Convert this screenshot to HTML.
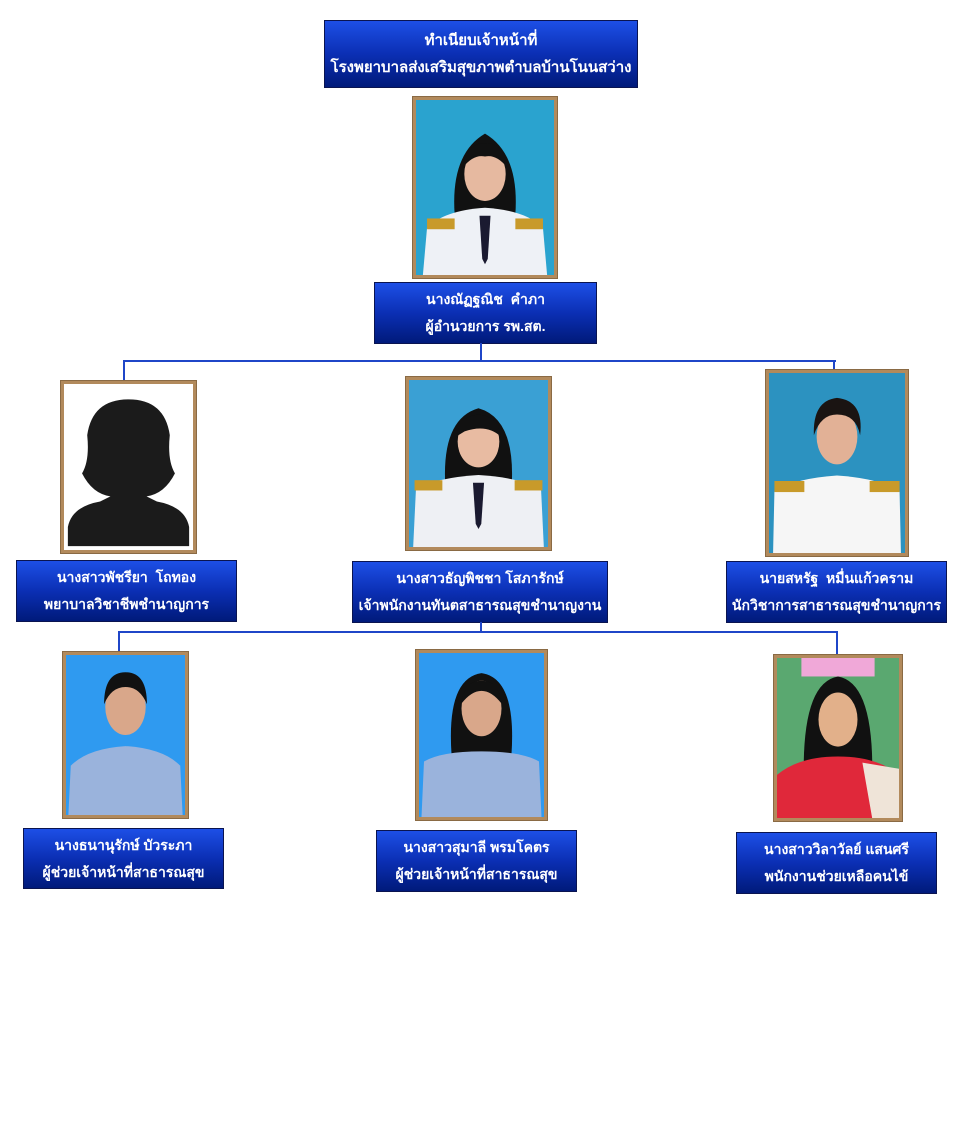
<!DOCTYPE html>
<html><head><meta charset="utf-8">
<style>
html,body{margin:0;padding:0;background:#fff;width:960px;height:1134px;position:relative;overflow:hidden;font-family:"Liberation Sans","DejaVu Sans",sans-serif}
.box{position:absolute;box-sizing:border-box;border:1px solid #0a1450;background:linear-gradient(#1d4fe6,#0b2fb4 50%,#001a7a);color:#fff;text-align:center;font-weight:bold;font-size:14px;line-height:27px;display:flex;flex-direction:column;justify-content:center}
.ph{position:absolute;box-sizing:border-box;border:3px solid #b28a5c;box-shadow:0 0 0 1px #8a6a44}
.ph svg{width:100%;height:100%;display:block}
.l{position:absolute;background:#1f46c8}
</style></head><body>

<div class="box" style="left:324px;top:20px;width:314px;height:68px;font-size:15px">ทำเนียบเจ้าหน้าที่<br>โรงพยาบาลส่งเสริมสุขภาพตำบลบ้านโนนสว่าง</div>

<div class="ph" style="left:413px;top:97px;width:144px;height:181px"><svg viewBox="0 0 100 130" preserveAspectRatio="none"><rect width="100" height="130" fill="#2aa3cf"/><path d="M28 85 Q25 40 50 25 Q75 40 72 85Z" fill="#111"/><path d="M5 130 L8 95 Q20 82 50 80 Q80 82 92 95 L95 130Z" fill="#eef1f6"/><rect x="8" y="88" width="20" height="8" fill="#c89a2a"/><rect x="72" y="88" width="20" height="8" fill="#c89a2a"/><path d="M46 86 L54 86 L52 118 L50 122 L48 118Z" fill="#1a1a30"/><ellipse cx="50" cy="55" rx="15" ry="20" fill="#e6b9a0"/><path d="M34 50 Q36 32 50 32 Q64 32 66 50 Q58 40 50 42 Q42 40 34 50Z" fill="#111"/></svg></div>
<div class="box" style="left:374px;top:282px;width:223px;height:62px">นางณัฏฐณิช &nbsp;คำภา<br>ผู้อำนวยการ รพ.สต.</div>

<div class="l" style="left:480px;top:343px;width:2px;height:19px"></div>
<div class="l" style="left:123px;top:360px;width:713px;height:2px"></div>
<div class="l" style="left:123px;top:360px;width:2px;height:21px"></div>
<div class="l" style="left:833px;top:360px;width:2px;height:10px"></div>

<div class="ph" style="left:61px;top:381px;width:135px;height:172px"><svg viewBox="0 0 100 130" preserveAspectRatio="none"><rect width="100" height="130" fill="#fff"/><path d="M3 127 L3 112 Q6 96 28 92 L36 88 Q22 86 14 70 Q20 60 18 40 Q22 12 50 12 Q78 12 82 40 Q80 60 86 70 Q78 86 64 88 L72 92 Q94 96 97 112 L97 127Z" fill="#1b1b1b"/></svg></div>
<div class="ph" style="left:406px;top:377px;width:145px;height:173px"><svg viewBox="0 0 100 130" preserveAspectRatio="none"><rect width="100" height="130" fill="#3aa0d4"/><path d="M26 80 Q24 30 50 22 Q76 30 74 80Z" fill="#111"/><path d="M3 130 L5 85 Q20 76 50 74 Q80 76 95 85 L97 130Z" fill="#eef0f4"/><rect x="4" y="78" width="20" height="8" fill="#c89a2a"/><rect x="76" y="78" width="20" height="8" fill="#c89a2a"/><path d="M46 80 L54 80 L52 112 L50 116 L48 112Z" fill="#1a1a30"/><ellipse cx="50" cy="48" rx="15" ry="20" fill="#e8bba2"/><path d="M34 44 Q36 28 50 27 Q64 28 66 44 Q56 34 40 40Z" fill="#111"/></svg></div>
<div class="ph" style="left:766px;top:370px;width:142px;height:186px"><svg viewBox="0 0 100 130" preserveAspectRatio="none"><rect width="100" height="130" fill="#2c92c0"/><path d="M3 130 L4 85 Q20 76 50 74 Q80 76 96 85 L97 130Z" fill="#f6f6f6"/><rect x="4" y="78" width="22" height="8" fill="#c89a2a"/><rect x="74" y="78" width="22" height="8" fill="#c89a2a"/><ellipse cx="50" cy="46" rx="15" ry="20" fill="#e2b196"/><path d="M33 45 Q32 20 50 18 Q70 20 67 45 Q64 30 50 30 Q38 30 33 45Z" fill="#1a1412"/></svg></div>

<div class="box" style="left:16px;top:560px;width:221px;height:62px">นางสาวพัชรียา &nbsp;โถทอง<br>พยาบาลวิชาชีพชำนาญการ</div>
<div class="box" style="left:352px;top:561px;width:256px;height:62px">นางสาวธัญพิชชา โสภารักษ์<br>เจ้าพนักงานทันตสาธารณสุขชำนาญงาน</div>
<div class="box" style="left:726px;top:561px;width:221px;height:62px">นายสหรัฐ &nbsp;หมื่นแก้วคราม<br>นักวิชาการสาธารณสุขชำนาญการ</div>

<div class="l" style="left:480px;top:622px;width:2px;height:11px"></div>
<div class="l" style="left:118px;top:631px;width:720px;height:2px"></div>
<div class="l" style="left:118px;top:631px;width:2px;height:21px"></div>
<div class="l" style="left:836px;top:631px;width:2px;height:24px"></div>

<div class="ph" style="left:63px;top:652px;width:125px;height:166px"><svg viewBox="0 0 100 130" preserveAspectRatio="none"><rect width="100" height="130" fill="#2f9af0"/><path d="M2 130 L4 90 Q18 76 50 74 Q82 76 96 90 L98 130Z" fill="#9ab3dc"/><ellipse cx="50" cy="42" rx="17" ry="23" fill="#d9a78a"/><path d="M32 40 Q32 14 50 14 Q68 14 68 40 Q62 26 50 26 Q38 26 32 40Z" fill="#111"/></svg></div>
<div class="ph" style="left:416px;top:650px;width:131px;height:170px"><svg viewBox="0 0 100 130" preserveAspectRatio="none"><rect width="100" height="130" fill="#2f9af0"/><path d="M26 80 Q22 20 50 16 Q78 20 74 80Z" fill="#111"/><path d="M2 130 L4 86 Q18 78 50 78 Q82 78 96 86 L98 130Z" fill="#9ab3dc"/><ellipse cx="50" cy="44" rx="16" ry="22" fill="#d9a78a"/><path d="M34 40 Q36 22 50 22 Q64 22 66 40 Q58 30 50 30 Q42 30 34 40Z" fill="#111"/></svg></div>
<div class="ph" style="left:774px;top:655px;width:128px;height:166px"><svg viewBox="0 0 100 130" preserveAspectRatio="none"><rect width="100" height="130" fill="#5aa870"/><rect x="20" y="0" width="60" height="15" fill="#f0a8d8"/><path d="M22 100 Q20 20 50 15 Q80 20 78 100Z" fill="#111"/><path d="M0 130 L0 95 Q18 80 50 80 Q82 80 100 95 L100 130Z" fill="#e0283a"/><path d="M70 85 L100 90 L100 130 L78 130Z" fill="#efe4d8"/><ellipse cx="50" cy="50" rx="16" ry="22" fill="#e2b08a"/></svg></div>

<div class="box" style="left:23px;top:828px;width:201px;height:61px">นางธนานุรักษ์ บัวระภา<br>ผู้ช่วยเจ้าหน้าที่สาธารณสุข</div>
<div class="box" style="left:376px;top:830px;width:201px;height:62px">นางสาวสุมาลี พรมโคตร<br>ผู้ช่วยเจ้าหน้าที่สาธารณสุข</div>
<div class="box" style="left:736px;top:832px;width:201px;height:62px">นางสาววิลาวัลย์ แสนศรี<br>พนักงานช่วยเหลือคนไข้</div>

</body></html>
